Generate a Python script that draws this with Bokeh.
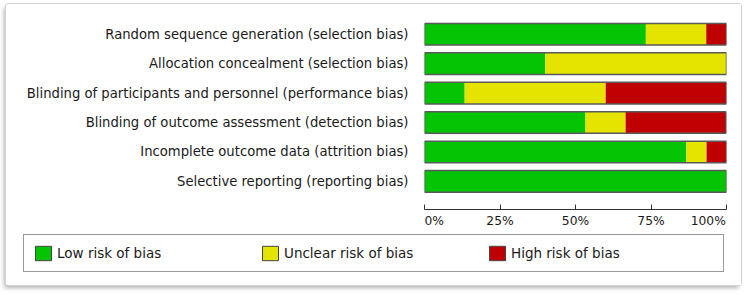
import numpy as np
from bokeh.plotting import figure
from bokeh.layouts import column
from bokeh.models import Range1d, FixedTicker, Legend, LegendItem
from bokeh.embed import file_html
from bokeh.resources import INLINE

# ---- data (percent of studies) ----
domains = [
    "Random sequence generation (selection bias)",
    "Allocation concealment (selection bias)",
    "Blinding of participants and personnel (performance bias)",
    "Blinding of outcome assessment (detection bias)",
    "Incomplete outcome data (attrition bias)",
    "Selective reporting (reporting bias)",
]
low = [73.3, 40.0, 13.3, 53.3, 86.7, 100.0]
unclear = [20.0, 60.0, 46.7, 13.3, 6.7, 0.0]
high = [6.7, 0.0, 40.0, 33.3, 6.7, 0.0]
x_ticks = [0, 25, 50, 75, 100]
x_tick_labels = ["0%", "25%", "50%", "75%", "100%"]
legend_labels = ["Low risk of bias", "Unclear risk of bias", "High risk of bias"]
colors = ["#04C404", "#E4E400", "#C00000"]

FONT = "DejaVu Sans"
TEXT_COLOR = "#1a1a1a"

n = len(domains)
ypos = list(range(n - 1, -1, -1))
series = [np.array(low), np.array(unclear), np.array(high)]
starts = [np.zeros(n), series[0], series[0] + series[1]]
ends = [series[0], series[0] + series[1], series[0] + series[1] + series[2]]

p = figure(width=735, height=226, x_range=Range1d(0, 100), y_range=Range1d(-0.955, 5.5),
           output_backend="svg", toolbar_location=None,
           min_border_left=418, min_border_right=15, min_border_top=15, min_border_bottom=21)
p.frame_align = False
p.grid.visible = False
p.outline_line_color = None
p.background_fill_color = "white"
p.border_fill_color = "white"

BAR_H = 0.735
for s, e, c in zip(starts, ends, colors):
    p.hbar(y=ypos, left=list(s), right=list(e), height=BAR_H, fill_color=c, line_color=None)
p.hbar(y=ypos, left=0, right=list(ends[2]), height=BAR_H, fill_color=None,
       line_color="#5a5a5a", line_width=1.5)

# y axis (category labels)
p.yaxis.ticker = FixedTicker(ticks=ypos)
p.yaxis.major_label_overrides = {y: d for y, d in zip(ypos, domains)}
p.yaxis.axis_line_color = None
p.yaxis.major_tick_line_color = None
p.yaxis.minor_tick_line_color = None
p.yaxis.major_tick_out = 0
p.yaxis.major_label_standoff = 16
p.yaxis.major_label_text_font = FONT
p.yaxis.major_label_text_font_size = "13.2px"
p.yaxis.major_label_text_color = TEXT_COLOR

# x axis
p.xaxis.ticker = FixedTicker(ticks=x_ticks)
nb = "\u00a0"
overrides = {}
for i, (t, lab) in enumerate(zip(x_ticks, x_tick_labels)):
    if i == 0:
        lab = nb * 5 + lab
    elif i == len(x_ticks) - 1:
        lab = lab + nb * 4
    overrides[t] = lab
p.xaxis.major_label_overrides = overrides
p.xaxis.axis_line_color = "#333333"
p.xaxis.major_tick_line_color = "#333333"
p.xaxis.minor_tick_line_color = None
p.xaxis.major_tick_in = 5
p.xaxis.major_tick_out = 0
p.xaxis.major_label_standoff = 4
p.xaxis.major_label_text_font = FONT
p.xaxis.major_label_text_font_size = "12.3px"
p.xaxis.major_label_text_color = TEXT_COLOR

# legend panel: swatch glyphs are hidden stand-ins (never drawn), only used by the legend
pl = figure(width=735, height=55, x_range=Range1d(0, 1), y_range=Range1d(0, 1),
            output_backend="svg", toolbar_location=None,
            x_axis_location=None, y_axis_location=None, min_border=0)
pl.frame_align = False
pl.grid.visible = False
pl.outline_line_color = None
pl.background_fill_color = "white"
pl.border_fill_color = "white"
items = []
for lab, c in zip(legend_labels, colors):
    r = pl.rect(x=[0.5], y=[0.5], width=0.01, height=0.01, fill_color=c,
                line_color="#444444", line_width=1, visible=False)
    items.append(LegendItem(label=lab, renderers=[r]))
legend = Legend(items=items, location=(17, 13), orientation="horizontal",
                glyph_width=20, glyph_height=18, label_standoff=4, label_width=203,
                label_height=18, spacing=0, padding=9, margin=0,
                border_line_color="#333333", border_line_width=1,
                background_fill_color="white", background_fill_alpha=1,
                inactive_fill_alpha=0,
                label_text_font=FONT, label_text_font_size="13.5px",
                label_text_color=TEXT_COLOR)
pl.add_layout(legend)

layout = column(p, pl, spacing=0,
                styles={"margin-left": "6px", "margin-top": "4px",
                        "background": "white",
                        "box-shadow": "0 0 0 1px #d4d4d4, -2px 3px 4px rgba(0,0,0,0.30)",
                        "border-radius": "3px"})

open("out.html", "w").write(file_html(layout, INLINE))
